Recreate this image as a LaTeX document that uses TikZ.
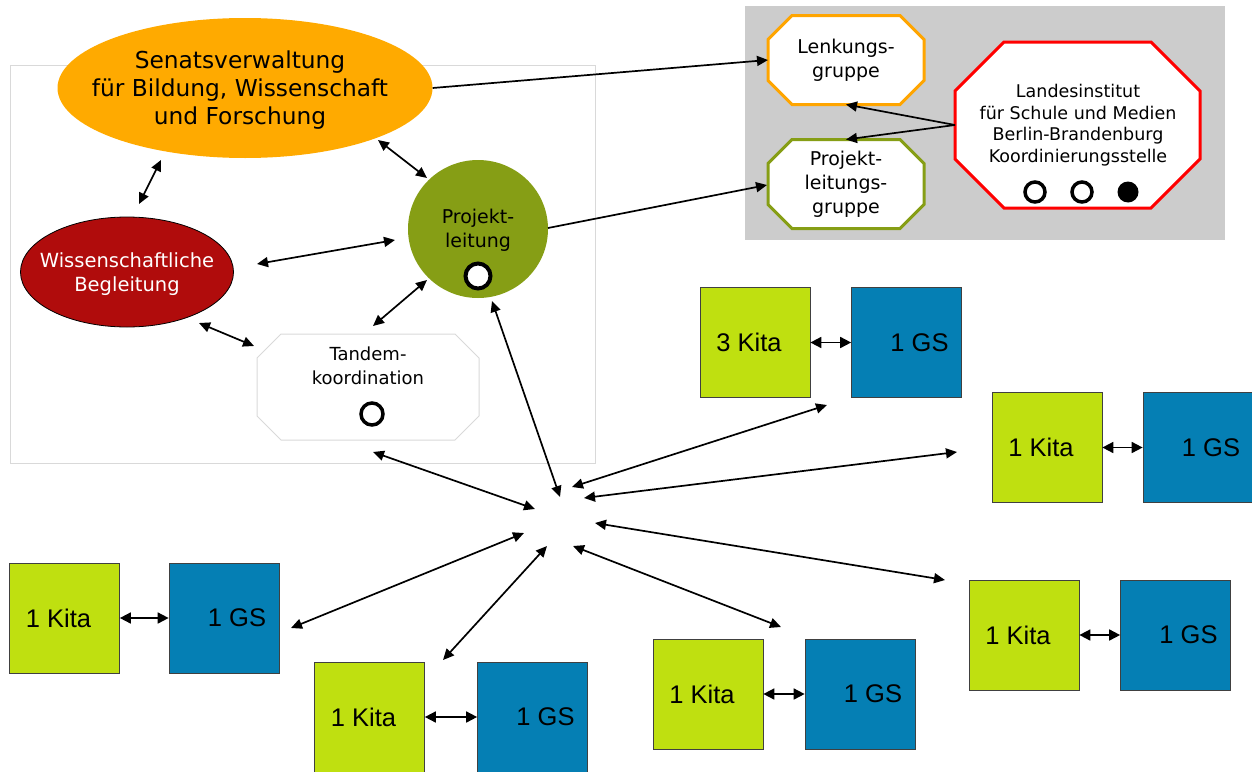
\documentclass[tikz,border=0pt]{standalone}
\usepackage{fontspec}
\setmainfont{DejaVu Sans}
\newfontfamily\kfont{Liberation Sans}
\usetikzlibrary{shapes.geometric,arrows.meta,calc,backgrounds}
\definecolor{senc}{HTML}{FFAA00}
\definecolor{plc}{HTML}{869E15}
\definecolor{wbc}{HTML}{B00C0C}
\definecolor{kitac}{HTML}{BFE010}
\definecolor{gsc}{HTML}{057FB4}
\definecolor{bgc}{HTML}{CCCCCC}
\definecolor{framec}{HTML}{D9D9D9}
\definecolor{lkc}{HTML}{FFA500}
\definecolor{lic}{HTML}{FF0000}
\newcommand{\octpath}[2]{($(#1.north west)+(#2,0)$) -- ($(#1.north east)+(-#2,0)$) -- ($(#1.north east)+(0,#2)$) -- ($(#1.south east)+(0,-#2)$) -- ($(#1.south east)+(-#2,0)$) -- ($(#1.south west)+(#2,0)$) -- ($(#1.south west)+(0,-#2)$) -- ($(#1.north west)+(0,#2)$) -- cycle}
\tikzset{
  tip/.tip={Triangle[length=11pt,width=10pt]},
  stip/.tip={Triangle[length=11pt,width=11pt]},
  arr/.style={line width=1.7pt,{tip}-{tip}},
  sarr/.style={line width=1.7pt,-{tip}},
  karr/.style={line width=1.7pt,{stip}-{stip}},
  octbox/.style={rectangle,inner sep=0pt,outer sep=0pt,align=center},
  octline/.style={fill=white,line width=3pt,line join=miter},
  ring/.style={circle,draw=black,fill=white,line width=3.5pt,minimum size=20pt,inner sep=0pt},
  dot/.style={circle,fill=black,minimum size=21pt,inner sep=0pt},
  kita/.style={rectangle,draw=black!75,line width=0.7pt,fill=kitac,minimum width=110pt,minimum height=110pt,inner sep=0pt,font=\kfont\fontsize{25.5}{28}\selectfont},
  gs/.style={kita,fill=gsc},
  txt/.style={align=center,inner sep=0pt},
}
\begin{document}
\begin{tikzpicture}[x=1pt,y=-1pt]
\useasboundingbox (0,0) rectangle (1252,771);

% main nodes
\node[ellipse,fill=senc,minimum width=375pt,minimum height=140pt,inner sep=0pt] (sen) at (245,88) {};
\node[txt,font=\fontsize{23.3}{28}\selectfont] (sent) at (240,90) {Senatsverwaltung\\f\"ur Bildung, Wissenschaft\\und Forschung};
\node[ellipse,fill=wbc,draw=black,line width=0.8pt,minimum width=213pt,minimum height=110pt,inner sep=0pt] (wb) at (127,272) {};
\node[txt,text=white,font=\fontsize{19.5}{24}\selectfont] (wbt) at (127,274) {Wissenschaftliche\\Begleitung};
\node[ellipse,fill=plc,minimum width=140pt,minimum height=138pt,inner sep=0pt] (pl) at (478,229) {};
\node[txt,font=\fontsize{19}{24}\selectfont] (plt) at (478,230) {Projekt-\\leitung};
\node[ring,line width=4pt,minimum size=25pt] (plr) at (478,276) {};

\node[octbox,minimum width=222pt,minimum height=106pt] (td) at (368,387) {};
\node[txt,font=\fontsize{18}{24}\selectfont] (tdt) at (368,366) {Tandem-\\koordination};
\node[ring,minimum size=22pt] (tdr) at (372,414) {};

% right group
\node[octbox,minimum width=156pt,minimum height=89pt,font=\fontsize{19}{24}\selectfont] (lk) at (846,60) {Lenkungs-\\gruppe};
\node[octbox,minimum width=156pt,minimum height=89pt,font=\fontsize{19}{24}\selectfont] (plg) at (846,184) {Projekt-\\leitungs-\\gruppe};
\node[octbox,minimum width=245pt,minimum height=166pt] (li) at (1077.5,125) {};
\node[txt,font=\fontsize{17.5}{21.5}\selectfont] (lit) at (1078,125) {Landesinstitut\\f\"ur Schule und Medien\\Berlin-Brandenburg\\Koordinierungsstelle};
\node[ring] (lr1) at (1035,192) {};
\node[ring] (lr2) at (1082,192) {};
\node[dot] (lr3) at (1128,192) {};

\begin{scope}[on background layer]
  \draw[framec,line width=1pt] (10,65) rectangle (595,463);
  \fill[bgc] (745,6) rectangle (1225,240);
  \draw[octline,draw=black!15,line width=1pt] \octpath{td}{24};
  \draw[octline,draw=lkc] \octpath{lk}{24};
  \draw[octline,draw=plc] \octpath{plg}{24};
  \draw[octline,draw=lic] \octpath{li}{49};
\end{scope}

% Kita / GS pairs
\node[kita] (k1) at (755,342.5) {3 Kita\hspace*{12pt}};
\node[gs] (g1) at (906.5,342.5) {\hspace*{26pt}1 GS};
\node[kita] (k2) at (1047,447.5) {1 Kita\hspace*{12pt}};
\node[gs] (g2) at (1198,447.5) {\hspace*{26pt}1 GS};
\node[kita] (k3) at (1024,635) {1 Kita\hspace*{12pt}};
\node[gs] (g3) at (1175.5,635) {\hspace*{26pt}1 GS};
\node[kita] (k4) at (708,694) {1 Kita\hspace*{12pt}};
\node[gs] (g4) at (860,694) {\hspace*{26pt}1 GS};
\node[kita] (k5) at (369.5,717) {1 Kita\hspace*{12pt}};
\node[gs] (g5) at (532.5,717) {\hspace*{26pt}1 GS};
\node[kita] (k6) at (64.5,618) {1 Kita\hspace*{12pt}};
\node[gs] (g6) at (224,618) {\hspace*{26pt}1 GS};
\foreach \i in {1,...,6} {\draw[karr] (k\i.east) -- (g\i.west);}

% arrow end coordinates
\coordinate (sp1) at (378,140); \coordinate (pp1) at (427,178);
\coordinate (sw1) at (161,160); \coordinate (ws1) at (139,204);
\coordinate (wp1) at (257,264); \coordinate (pw1) at (395,240);
\coordinate (wt1) at (199,323); \coordinate (tw1) at (254,346);
\coordinate (tp1) at (373,326); \coordinate (pt1) at (427,280);
\coordinate (plo) at (548,228); \coordinate (plgi) at (767,185);
% centre hub ends
\coordinate (cpl) at (560,497); \coordinate (epl) at (492,301);
\coordinate (ctd) at (535,509); \coordinate (etd) at (373,452);
\coordinate (ck1) at (572,487); \coordinate (ek1) at (827,405);
\coordinate (ck2) at (584,498); \coordinate (ek2) at (957,452);
\coordinate (ck3) at (595,523); \coordinate (ek3) at (945,580);
\coordinate (ck4) at (573,546); \coordinate (ek4) at (781,627);
\coordinate (ck5) at (547,546); \coordinate (ek5) at (443,660);
\coordinate (ck6) at (524,533); \coordinate (ek6) at (291,628);

\draw[sarr] (sen.east) -- (lk.west);
\draw[sarr] (plo) -- (plgi);
\draw[sarr] (li.west) -- (lk.south);
\draw[sarr] (li.west) -- (plg.north);

\draw[arr] (sp1) -- (pp1);
\draw[arr] (sw1) -- (ws1);
\draw[arr] (wp1) -- (pw1);
\draw[arr] (wt1) -- (tw1);
\draw[arr] (tp1) -- (pt1);
\draw[arr] (cpl) -- (epl);
\draw[arr] (ctd) -- (etd);
\foreach \i in {1,...,6} {\draw[arr] (ck\i) -- (ek\i);}
\end{tikzpicture}
\end{document}
